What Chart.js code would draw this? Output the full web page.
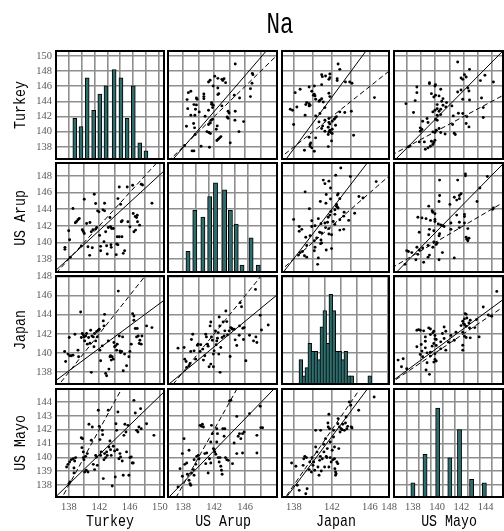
<!DOCTYPE html>
<html><head><meta charset="utf-8">
<script src="https://cdn.jsdelivr.net/npm/chart.js@4/dist/chart.umd.min.js"></script>
<style>
html,body{margin:0;padding:0;background:#fff;}
#wrap{position:relative;width:504px;height:531px;overflow:hidden;background:#fff;}
#wrap canvas{position:absolute;}
.t{position:absolute;font-family:'Liberation Mono',monospace;color:#000;white-space:nowrap;line-height:1;}
</style></head><body><div id="wrap"></div>
<script>
// ---------- data ----------
const variables = ['Turkey', 'US Arup', 'Japan', 'US Mayo'];
const chartTitle = 'Na';

const xRanges = [[136.29, 150.54], [136.06, 150.1], [136.75, 148.0], [137.08, 144.8]];
const yRanges = [[136.4, 150.66], [136.43, 149.57], [136.75, 148.05], [137.13, 144.94]];
const gridTicksX = [[138,140,142,144,146,148,150],[138,140,142,144,146,148],[138,140,142,144,146,148],[138,139,140,141,142,143,144]];
const gridTicksY = [[138,140,142,144,146,148,150],[138,140,142,144,146,148],[138,140,142,144,146,148],[138,139,140,141,142,143,144]];
const xTickLabels = [[138,142,146,150],[138,142,146],[138,142,146,148],[138,140,142,144]];
const yTickLabels = [[138,140,142,144,146,148,150],[138,140,142,144,146,148],[138,140,142,144,146,148],[138,139,140,141,142,143,144]];

// histograms (diagonal)
const turkeyBins = [138,138.95,139.9,140.9,141.85,142.8,144.05,145.1,146.05,147,148,148.95];
const turkeyCounts = [5,4,10,6,8,9,11,10,5,9,2,1];
const arupBins = [137.75,138.8,140.05,141.1,142,143.4,144.3,145.2,146.1,147.5,148.6];
const arupCounts = [3,9,8,11,13,12,9,7,1,5,1];
const japanBins = [138.00,138.38,138.76,139.13,139.51,139.89,140.27,140.65,141.02,141.40,141.78,142.16,142.54,142.91,143.29,143.67,144.05,144.43,146.69];
const japanCounts = [3,1,2,5,4,4,3,7,9,5,11,9,4,4,3,4,1,1,1];
const mayoBins = [138,139,140.05,141.05,141.85,142.85,143.9];
const mayoCounts = [4,12,25,11,19,5,4];
const countMax = [13.3, 15.9, 13.25, 30.4];

// scatter pairs: [first variable, second variable]
const turkeyArup = [[137.47,139.4],[137.47,139.16],[137.96,141.4],[138.09,140.32],[138.53,144.08],[138.18,138.2],[138.84,142.36],[139.01,142.52],[139.19,142.72],[139.36,142.88],[139.76,141.52],[139.89,141.32],[140.02,141.08],[140.02,145.2],[139.63,139.56],[140.33,142.28],[140.77,142.4],[140.51,139.48],[140.73,138.44],[141.08,139.36],[141.34,145.8],[141.52,144.68],[140.95,141.28],[141.16,141.52],[141.52,141.6],[141.65,141.8],[141.78,143.8],[141.96,143.68],[142.04,140.84],[142.18,139.52],[142.18,139.0],[142.48,143.92],[142.7,143.8],[142.7,144.72],[142.62,140.08],[142.84,141.28],[142.97,139.6],[143.05,138.6],[143.41,143.0],[143.49,141.88],[143.63,141.68],[143.54,139.72],[143.58,139.4],[143.19,141.8],[144.24,138.52],[143.85,141.68],[144.37,140.68],[144.64,140.68],[144.99,140.68],[144.29,139.8],[144.46,139.72],[144.64,146.68],[144.46,145.28],[144.81,144.6],[144.9,142.48],[145.03,142.6],[145.16,138.68],[145.34,139.0],[145.69,146.68],[146.4,146.88],[145.78,142.48],[146.04,141.88],[146.48,143.48],[146.75,143.12],[146.92,143.0],[147.05,142.48],[146.57,141.28],[146.79,141.48],[147.32,142.08],[147.01,143.28],[147.54,147.0],[147.71,146.92],[148.95,144.72]];
const turkeyJapan = [[137.43,140.15],[137.56,139.11],[137.87,139.88],[138.09,139.7],[138.31,139.7],[138.53,139.77],[138.04,141.61],[138.79,141.96],[139.19,140.29],[139.27,139.6],[139.54,144.28],[139.63,141.61],[139.76,142.03],[139.89,141.89],[139.98,141.68],[140.07,141.26],[140.2,141.78],[140.33,142.03],[140.42,140.92],[140.59,141.61],[140.77,141.02],[140.86,142.38],[140.95,137.97],[141.03,141.78],[141.21,141.68],[141.38,142.03],[141.52,141.26],[141.65,142.24],[141.74,141.68],[141.87,142.38],[142.0,142.48],[142.18,139.18],[142.4,140.74],[142.53,143.35],[142.62,142.83],[142.7,144.04],[142.84,137.86],[142.97,137.62],[143.19,141.26],[143.27,138.31],[143.41,139.6],[143.49,139.7],[143.58,139.25],[143.71,139.6],[143.85,139.35],[143.93,141.09],[144.02,140.64],[144.15,140.74],[144.29,140.29],[144.37,140.92],[144.51,146.47],[144.64,141.78],[144.73,140.22],[144.81,140.05],[144.95,140.15],[145.08,141.68],[145.16,138.14],[145.34,139.88],[145.6,138.66],[145.91,139.6],[146.04,140.15],[146.22,140.92],[146.4,144.11],[146.57,143.87],[146.57,143.42],[146.75,142.55],[147.01,142.55],[147.14,141.78],[147.27,140.99],[147.36,141.33],[147.54,140.92],[147.63,141.78],[146.92,141.68],[148.24,142.83],[148.95,142.65],[141.3,140.64],[142.09,140.29]];
const turkeyMayo = [[137.69,139.3],[137.87,139.49],[138.09,139.66],[138.31,139.83],[138.57,139.9],[138.75,139.73],[138.88,139.98],[138.0,138.1],[138.13,138.22],[138.66,138.87],[139.63,141.42],[139.8,141.35],[139.89,140.39],[139.89,139.98],[139.98,139.83],[140.07,138.94],[140.2,140.07],[140.29,139.06],[140.42,140.27],[140.51,138.94],[140.64,142.39],[140.95,141.23],[141.08,142.19],[141.21,139.49],[141.38,139.11],[141.52,140.14],[141.65,140.02],[141.74,139.42],[141.87,143.4],[142.0,142.24],[142.09,141.28],[142.18,140.14],[142.26,140.39],[142.4,141.95],[142.44,141.64],[142.53,138.46],[142.62,139.83],[142.7,140.27],[142.84,139.98],[142.97,140.39],[143.05,140.14],[143.19,143.4],[143.27,140.75],[143.41,141.18],[143.49,140.55],[143.58,140.14],[143.71,137.93],[143.85,140.8],[144.02,140.46],[144.11,138.58],[144.2,142.43],[144.29,141.95],[144.37,140.55],[144.46,143.28],[144.59,139.9],[144.73,140.27],[144.81,140.02],[145.03,139.73],[145.16,138.7],[145.25,141.59],[145.38,142.39],[145.52,141.83],[145.6,140.39],[145.78,142.31],[145.91,138.7],[146.04,139.98],[146.22,140.02],[146.35,139.59],[146.48,139.59],[146.57,144.12],[146.75,143.2],[146.92,141.95],[147.1,141.83],[147.23,142.19],[147.45,143.52],[147.54,142.07],[148.24,142.43],[149.21,141.59],[139.71,140.7],[138.66,139.23]];
const arupJapan = [[137.35,140.5],[138.13,140.57],[138.22,139.35],[138.39,139.11],[138.47,138.49],[138.77,138.66],[138.9,138.9],[139.08,141.4],[138.99,140.15],[139.25,141.96],[139.42,140.22],[139.63,139.35],[139.85,140.81],[139.94,140.92],[140.19,140.15],[140.28,140.85],[140.54,140.4],[140.62,139.25],[140.8,139.7],[140.92,141.96],[141.01,141.68],[141.14,140.92],[141.23,140.71],[141.35,138.56],[141.48,142.83],[141.57,143.24],[141.66,141.68],[141.78,141.33],[141.91,139.88],[142.0,140.22],[142.17,142.31],[142.26,140.85],[142.34,141.26],[142.43,141.54],[142.52,142.13],[142.6,139.88],[142.65,143.76],[142.73,142.83],[142.77,137.97],[142.86,140.57],[143.03,141.61],[143.16,143.24],[143.29,141.78],[143.38,142.31],[143.51,144.39],[143.63,143.28],[143.72,141.89],[143.94,142.31],[144.06,139.63],[144.15,142.65],[144.28,142.55],[144.37,142.48],[144.58,142.48],[144.71,141.37],[144.92,140.78],[145.23,141.85],[145.27,142.83],[145.53,144.84],[145.7,142.58],[145.87,142.65],[145.78,141.4],[146.09,139.18],[146.56,141.85],[147.08,141.26],[147.38,141.68],[147.51,141.09],[147.94,143.94],[147.33,146.65],[148.97,142.93],[145.35,145.26],[141.57,138.83],[141.91,138.56],[148.1,142.4]];
const arupMayo = [[137.35,137.86],[137.61,139.18],[137.91,138.63],[138.13,141.35],[138.22,139.49],[138.47,139.59],[138.56,138.77],[138.77,138.34],[138.9,138.1],[138.99,137.98],[138.77,140.51],[139.08,138.87],[139.33,139.11],[139.42,139.83],[139.63,139.49],[139.76,140.07],[139.94,140.14],[140.06,139.9],[140.19,142.31],[140.37,142.24],[140.49,142.39],[140.62,142.19],[140.8,140.27],[140.92,139.54],[141.05,140.31],[141.23,138.87],[141.4,139.9],[141.57,139.59],[141.66,142.31],[141.78,141.71],[141.91,140.63],[142.0,140.55],[142.09,140.39],[142.22,140.22],[142.34,142.07],[142.43,141.71],[142.52,139.98],[142.65,139.66],[142.77,139.98],[142.86,139.35],[142.95,139.06],[143.03,138.77],[143.12,142.07],[143.29,141.52],[143.38,142.07],[143.46,139.98],[143.63,139.83],[143.81,139.78],[143.98,144.07],[144.15,144.12],[144.37,139.54],[144.58,141.04],[144.92,142.96],[145.1,141.52],[145.27,141.71],[145.44,141.35],[145.66,141.71],[145.87,141.83],[144.92,140.27],[145.66,140.31],[146.56,143.16],[147.51,141.59],[147.51,140.31],[147.94,143.69],[148.02,142.14],[148.24,142.14],[137.91,140.27],[139.42,138.7],[141.57,141.11],[142.34,141.11]];
const japanMayo = [[137.76,139.59],[138.21,139.35],[138.35,137.98],[138.56,137.61],[138.97,139.42],[139.04,139.9],[139.15,140.07],[139.32,139.98],[139.39,137.73],[139.25,137.37],[139.6,139.11],[139.67,139.66],[139.84,138.94],[139.91,139.98],[140.01,139.42],[140.08,139.66],[140.29,141.95],[140.43,140.39],[140.29,140.75],[140.53,139.3],[140.64,138.7],[140.71,139.78],[140.78,140.07],[140.81,141.95],[140.99,139.9],[141.13,140.94],[141.16,140.39],[141.23,139.3],[141.33,141.35],[141.4,140.07],[141.47,139.98],[141.51,140.63],[141.58,142.48],[141.61,142.19],[141.68,143.11],[141.75,142.07],[141.82,139.98],[141.82,141.11],[141.92,139.66],[142.03,140.51],[142.1,139.83],[142.17,141.95],[142.17,141.47],[142.27,139.9],[142.31,139.18],[142.38,138.94],[142.38,138.7],[142.44,138.82],[142.51,139.66],[142.62,139.54],[142.65,142.8],[142.62,142.43],[142.72,140.63],[142.79,142.19],[142.86,141.83],[142.97,142.07],[143.07,142.0],[143.14,142.39],[143.31,141.95],[143.42,142.48],[143.49,142.92],[143.56,142.07],[143.66,142.24],[143.83,144.0],[143.97,143.76],[144.11,142.12],[144.04,142.19],[144.81,143.4],[146.44,144.36],[140.19,139.06],[140.88,139.01],[141.68,139.3],[142.27,140.75]];

// symmetric fit line (solid): second = intercept + slope * first ; dashed line is y = x
const fitSlope = [0.84, 0.588, 0.531, 0.67, 0.578, 0.92];
const fitIntercept = [22.16, 56.99, 64.79, 45.5, 58.41, 10.87];

// ---------- layout (positions / styles) ----------
const colLeft = [56, 168, 282, 394], colRight = [164, 277, 389, 503];
const rowTop = [51, 163, 276, 389], rowBottom = [159, 272, 384, 497];
const barColor = '#2f6d6d';
const gridColor = '#8e8e8e';

const histBins = [turkeyBins, arupBins, japanBins, mayoBins];
const histCounts = [turkeyCounts, arupCounts, japanCounts, mayoCounts];
const barWidths = [4, 4.2, 3.7, 4.2];
const pairList = {'0,1': [turkeyArup, 0], '0,2': [turkeyJapan, 1], '0,3': [turkeyMayo, 2], '1,2': [arupJapan, 3], '1,3': [arupMayo, 4], '2,3': [japanMayo, 5]};

Chart.defaults.font.family = "'Liberation Serif', serif";
Chart.defaults.font.size = 10.5;
Chart.defaults.color = '#5a5a5a';

const framePlugin = {
  id: 'frame',
  afterDraw(chart) {
    const a = chart.chartArea, ctx = chart.ctx;
    ctx.save();
    ctx.strokeStyle = '#000';
    ctx.lineWidth = 2;
    ctx.strokeRect(a.left, a.top, a.right - a.left, a.bottom - a.top);
    ctx.restore();
  }
};

function noPad(s) { s.paddingLeft = 0; s.paddingRight = 0; s.paddingTop = 0; s.paddingBottom = 0; }

const wrap = document.getElementById('wrap');

for (let r = 0; r < 4; r++) {
  for (let c = 0; c < 4; c++) {
    const pw = colRight[c] - colLeft[c], ph = rowBottom[r] - rowTop[r];
    const ML = c === 0 ? 44 : 10, MR = 12, MT = 10, MB = r === 3 ? 24 : 10;
    const yW = c === 0 ? 36 : 0, xH = r === 3 ? 18 : 0;
    const cv = document.createElement('canvas');
    cv.width = pw + ML + MR; cv.height = ph + MT + MB;
    cv.style.left = (colLeft[c] - ML) + 'px';
    cv.style.top = (rowTop[r] - MT) + 'px';
    cv.style.width = cv.width + 'px'; cv.style.height = cv.height + 'px';
    cv.style.zIndex = String(10 - r);
    wrap.appendChild(cv);

    const datasets = [];
    const xr = xRanges[c], yr = yRanges[r];
    if (r === c) {
      datasets.push({
        type: 'bar', yAxisID: 'yc',
        data: histBins[c].map((b, i) => ({x: b, y: histCounts[c][i]})),
        backgroundColor: barColor, borderColor: '#000', borderWidth: 1,
        barThickness: barWidths[c], borderSkipped: false
      });
    } else {
      const lo = Math.min(r, c), hi = Math.max(r, c);
      const [pts, k] = pairList[lo + ',' + hi];
      const m = fitSlope[k], b = fitIntercept[k];
      let data, f;
      if (r > c) { // x = first (lo), y = second (hi)
        data = pts.map(p => ({x: p[0], y: p[1]}));
        f = x => b + m * x;
      } else {     // x = second (hi), y = first (lo)
        data = pts.map(p => ({x: p[1], y: p[0]}));
        f = x => (x - b) / m;
      }
      datasets.push({
        type: 'scatter', data, pointRadius: 1.45, pointBackgroundColor: '#000',
        pointBorderWidth: 0, pointHoverRadius: 1.45
      });
      datasets.push({
        type: 'line', data: [{x: xr[0], y: f(xr[0])}, {x: xr[1], y: f(xr[1])}],
        borderColor: '#000', borderWidth: 1, pointRadius: 0, fill: false
      });
      const a0 = Math.min(xr[0], yr[0]), a1 = Math.max(xr[1], yr[1]);
      datasets.push({
        type: 'line', data: [{x: a0, y: a0}, {x: a1, y: a1}],
        borderColor: '#000', borderWidth: 1, borderDash: [5, 3], pointRadius: 0, fill: false
      });
    }

    const scales = {
      x: {
        type: 'linear', position: 'bottom', min: xr[0], max: xr[1],
        afterBuildTicks: s => { s.ticks = gridTicksX[c].map(v => ({value: v})); },
        afterFit: s => { s.height = xH; noPad(s); },
        grid: {color: gridColor, lineWidth: 1.6, drawTicks: false},
        border: {display: false},
        ticks: {
          display: r === 3, padding: 4, maxRotation: 0, autoSkip: false,
          callback: v => xTickLabels[c].includes(v) ? String(v) : ''
        }
      },
      y: {
        type: 'linear', position: 'left', min: yr[0], max: yr[1],
        afterBuildTicks: s => { s.ticks = gridTicksY[r].map(v => ({value: v})); },
        afterFit: s => { s.width = yW; noPad(s); },
        grid: {color: gridColor, lineWidth: 1.6, drawTicks: false},
        border: {display: false},
        ticks: {
          display: c === 0, padding: 4, autoSkip: false,
          callback: v => yTickLabels[r].includes(v) ? String(v) : ''
        }
      }
    };
    if (r === c) {
      scales.yc = {type: 'linear', display: false, min: 0, max: countMax[c]};
    }

    new Chart(cv, {
      type: 'scatter',
      data: {datasets},
      options: {
        responsive: false, animation: false, devicePixelRatio: 1,
        layout: {autoPadding: false, padding: {left: ML - yW, right: MR, top: MT, bottom: MB - xH}},
        plugins: {legend: {display: false}, tooltip: {enabled: false}},
        events: [],
        scales
      },
      plugins: [framePlugin]
    });
  }
}

// ---------- titles ----------
function addText(txt, x, y, size, rot, sx) {
  const d = document.createElement('div');
  d.className = 't';
  d.textContent = txt;
  d.style.fontSize = size + 'px';
  d.style.left = x + 'px'; d.style.top = y + 'px';
  d.style.zIndex = '20';
  d.style.transform = 'translate(-50%,-50%)' + (rot ? ' rotate(-90deg)' : '') + ' scaleX(' + sx + ')';
  wrap.appendChild(d);
}
addText(chartTitle, 280, 25, 30, false, 0.75);
const rowCenters = rowTop.map((t, i) => (t + rowBottom[i]) / 2);
const colCenters = colLeft.map((l, i) => (l + colRight[i]) / 2);
variables.forEach((v, i) => {
  addText(v, 20, rowCenters[i], 17, true, 0.78);
  addText(v, colCenters[i], 521, 17, false, 0.78);
});
</script></body></html>
